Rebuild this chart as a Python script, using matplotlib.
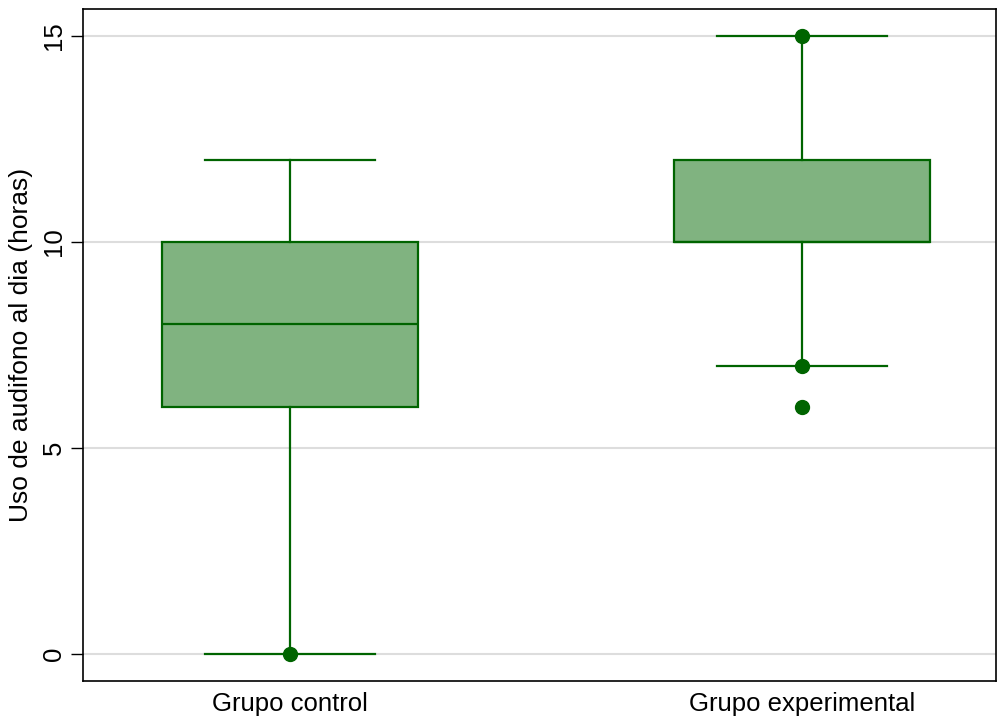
import matplotlib.pyplot as plt

plt.rcParams["font.family"] = ["Liberation Sans", "DejaVu Sans"]

groups = ["Grupo control", "Grupo experimental"]
whislo = [0, 7]
q1 = [6, 10]
med = [8, 10]
q3 = [10, 12]
whishi = [12, 15]
dots = [[0], [15, 7, 6]]

fill_color = "#80b380"
line_color = "#006400"

stats = []
for i, name in enumerate(groups):
    stats.append({
        "label": name,
        "whislo": whislo[i],
        "q1": q1[i],
        "med": med[i],
        "q3": q3[i],
        "whishi": whishi[i],
        "fliers": dots[i],
    })

fig = plt.figure(figsize=(9.97, 7.18), dpi=100)
ax = fig.add_axes([83 / 997, 37 / 718, 913 / 997, 672 / 718])

ax.bxp(
    stats,
    positions=[1, 2],
    widths=0.5,
    patch_artist=True,
    boxprops=dict(facecolor=fill_color, edgecolor=line_color, linewidth=1.6),
    medianprops=dict(color=line_color, linewidth=1.6),
    whiskerprops=dict(color=line_color, linewidth=1.6),
    capprops=dict(color=line_color, linewidth=1.6),
    capwidths=0.332,
    flierprops=dict(marker="o", markerfacecolor=line_color,
                    markeredgecolor=line_color, markersize=10),
    zorder=3,
)

# gridlines
ax.set_yticks([0, 5, 10, 15])
ax.yaxis.grid(True, color="#dddddd", linewidth=1.5, zorder=0)
ax.set_axisbelow(True)

ax.set_xlim(0.5957, 2.379)
ax.set_ylim(-0.655, 15.655)

ax.tick_params(axis="y", length=9, width=1, labelsize=18.5, pad=3)
for lab in ax.get_yticklabels():
    lab.set_rotation(90)
    lab.set_va("center")
ax.tick_params(axis="x", length=0, labelsize=18.5, pad=8)

ax.set_ylabel("Uso de audifono al dia (horas)", fontsize=19, labelpad=7)

for sp in ax.spines.values():
    sp.set_linewidth(1.2)

fig.savefig("out.png", dpi=100)
